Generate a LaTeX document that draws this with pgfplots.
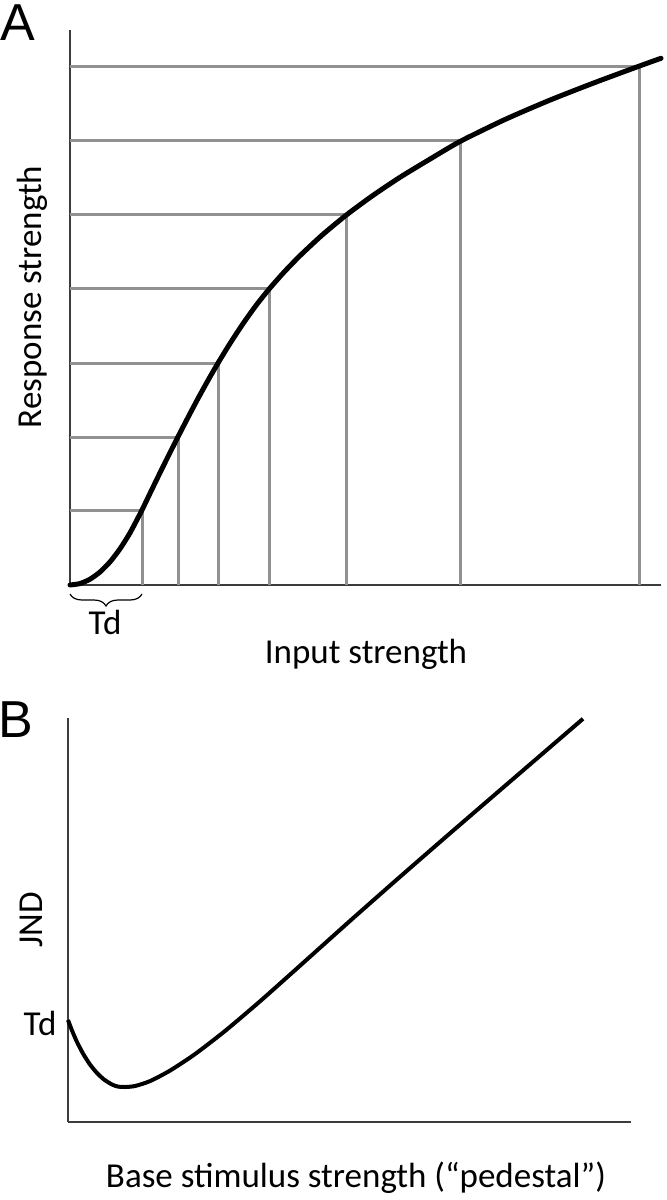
\documentclass[border=0pt]{standalone}
\usepackage{fontspec}
\setmainfont{Carlito}
\newfontfamily\labfont{Liberation Sans}
\usepackage{pgfplots}
\pgfplotsset{compat=1.18}
\usetikzlibrary{decorations.pathreplacing}
\definecolor{linegray}{RGB}{145,145,145}
\definecolor{axgray}{RGB}{60,60,60}
\begin{document}
\begin{tikzpicture}
\useasboundingbox (0,0) rectangle (333pt,-600pt);
% ---------- Panel A ----------
\begin{axis}[
  at={(35pt,-292.5pt)}, anchor=south west,
  scale only axis, width=295.5pt, height=277.5pt,
  xmin=70, xmax=661, ymin=0, ymax=555,
  axis x line=bottom, axis y line=left,
  axis line style={-, draw=axgray, line width=0.9pt},
  xtick=\empty, ytick=\empty, clip=false]
  % horizontal guide lines
  \addplot[linegray, line width=1.5pt] coordinates {(70,75) (142,75)};
  \addplot[linegray, line width=1.5pt] coordinates {(70,148) (178,148)};
  \addplot[linegray, line width=1.5pt] coordinates {(70,222) (218,222)};
  \addplot[linegray, line width=1.5pt] coordinates {(70,296) (269,296)};
  \addplot[linegray, line width=1.5pt] coordinates {(70,370) (346,370)};
  \addplot[linegray, line width=1.5pt] coordinates {(70,444) (460,444)};
  \addplot[linegray, line width=1.5pt] coordinates {(70,518) (639,518)};
  % vertical guide lines
  \addplot[linegray, line width=1.5pt] coordinates {(142,0) (142,75)};
  \addplot[linegray, line width=1.5pt] coordinates {(178,0) (178,148)};
  \addplot[linegray, line width=1.5pt] coordinates {(218,0) (218,222)};
  \addplot[linegray, line width=1.5pt] coordinates {(269,0) (269,296)};
  \addplot[linegray, line width=1.5pt] coordinates {(346,0) (346,370)};
  \addplot[linegray, line width=1.5pt] coordinates {(460,0) (460,444)};
  \addplot[linegray, line width=1.5pt] coordinates {(639,0) (639,518)};
  % response curve
  \addplot[black, line width=2.5pt, smooth, tension=0.4, line cap=round] coordinates {
    (70,0) (80,1.45) (90,5.8) (100,13.0) (110,23.1) (120,36.2) (130,52.1) (142,75)
    (151,93.7) (160,112.2) (169,130.4) (178,148.2) (188,167.6) (198,186.5)
    (208,204.6) (218,221.9) (230,241.5) (243,261.3) (256,279.5) (269,295.8)
    (284,312.8) (300,329.3) (322,349.8) (346,369.7) (372,388.9) (400,407.7)
    (430,425.9) (460,443.5) (505,465.5) (550,484.9) (595,502.5) (639,518.8)
    (661,526.7)};
\end{axis}
\draw[black, line width=0.6pt, decorate, decoration={brace, mirror, amplitude=6pt}]
  (35pt,-297pt) -- (71pt,-297pt);
\node[font=\labfont\fontsize{26}{30}\selectfont] at (9pt,-11.5pt) {A};
\node[font=\fontsize{17.5}{20}\selectfont, rotate=90] at (16pt,-148.5pt) {Response strength};
\node[font=\fontsize{17.5}{20}\selectfont] at (52.5pt,-311pt) {Td};
\node[font=\fontsize{17.5}{20}\selectfont] at (183pt,-327pt) {Input strength};
% ---------- Panel B ----------
\begin{axis}[
  at={(34pt,-561pt)}, anchor=south west,
  scale only axis, width=281.5pt, height=202pt,
  xmin=68, xmax=631, ymin=0, ymax=404,
  axis x line=bottom, axis y line=left,
  axis line style={-, draw=axgray, line width=0.9pt},
  xtick=\empty, ytick=\empty, clip=false]
  \addplot[black, line width=2pt, smooth, tension=0.4] coordinates {
    (68,102) (72,91.5) (77,80) (83,68.5) (90,57.5) (97,49) (104,42.5)
    (112,37.5) (118,35.4) (125,35) (135,36) (150,40.9) (170,51.4)
    (195,67.9) (225,91) (260,120.7) (300,156.3) (350,201.1) (400,245.2)
    (450,288.7) (500,331.8) (583,403.2)};
\end{axis}
\node[font=\labfont\fontsize{26}{30}\selectfont] at (8pt,-360pt) {B};
\node[font=\fontsize{17.5}{20}\selectfont, rotate=90] at (15.5pt,-460pt) {JND};
\node[font=\fontsize{17.5}{20}\selectfont] at (20pt,-511.5pt) {Td};
\node[font=\fontsize{17.5}{20}\selectfont] at (178pt,-589pt) {Base stimulus strength (“pedestal”)};
\end{tikzpicture}
\end{document}
